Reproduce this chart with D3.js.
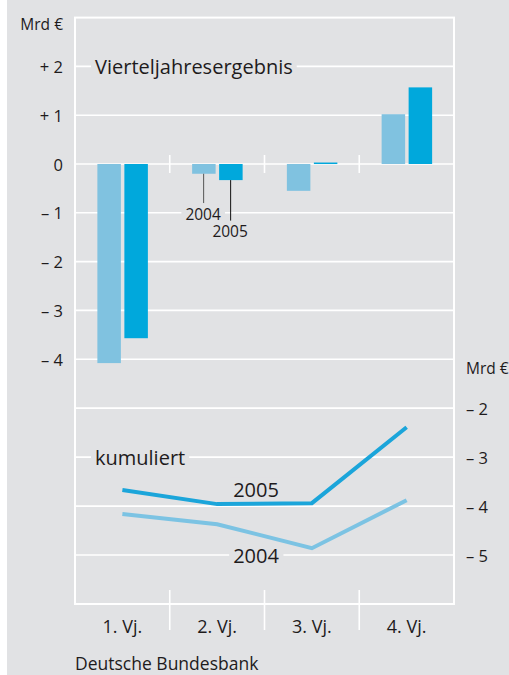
<!DOCTYPE html>
<html>
<head>
<meta charset="utf-8">
<script src="https://cdn.jsdelivr.net/npm/d3@7"></script>
<style>
  body { margin: 0; background: #fff; }
  svg text { font-family: "Open Sans", "Noto Sans", sans-serif; fill: #1e1b1c; }
</style>
</head>
<body>
<div id="chart"></div>
<script>
/* DATA */
const quarters = ["1. Vj.", "2. Vj.", "3. Vj.", "4. Vj."];
const q2004 = [-4.08, -0.2, -0.55, 1.02];   // Vierteljahresergebnis
const q2005 = [-3.57, -0.33, 0.03, 1.57];
const cum2004 = [-4.16, -4.37, -4.86, -3.88]; // kumuliert
const cum2005 = [-3.67, -3.96, -3.94, -2.39];
const topTicks = [2, 1, 0, -1, -2, -3, -4];
const topTickLabels = ["+ 2", "+ 1", "0", "– 1", "– 2", "– 3", "– 4"];
const botTicks = [-2, -3, -4, -5];
const botTickLabels = ["– 2", "– 3", "– 4", "– 5"];

/* CONSTANTS */
const width = 509, height = 675;
const bg = "#e1e2e4", light = "#80c2e0", dark = "#00a8dc";
const lineLight = "#7cc3e3", lineDark = "#1ba5da";
const frame = { left: 75, right: 454, top: 17.6, bottom: 604 };

const svg = d3.select("#chart").append("svg")
  .attr("width", width).attr("height", height);

svg.append("rect").attr("x", 7).attr("y", 0)
  .attr("width", width - 7).attr("height", height).attr("fill", bg);

/* SCALES */
const x = d3.scaleBand().domain(quarters).range([frame.left, frame.right]);
const cx = d => x(d) + x.bandwidth() / 2;
const yTop = d3.scaleLinear().domain([3, -4]).range([frame.top, 359.2]);
const yBot = d3.scaleLinear().domain([-1, -6]).range([359.2, frame.bottom]);

const grid = svg.append("g").attr("stroke", "#fff").attr("stroke-width", 1.6);

// gridlines
grid.selectAll("line.top").data(topTicks).join("line")
  .attr("x1", frame.left).attr("x2", frame.right)
  .attr("y1", d => yTop(d)).attr("y2", d => yTop(d));
grid.selectAll("line.bot").data(botTicks).join("line")
  .attr("x1", frame.left).attr("x2", frame.right)
  .attr("y1", d => yBot(d)).attr("y2", d => yBot(d));

// category separators on zero line and at bottom
const seps = quarters.slice(1).map(q => x(q));
grid.selectAll("line.sep0").data(seps).join("line")
  .attr("x1", d => d).attr("x2", d => d)
  .attr("y1", yTop(0) - 9).attr("y2", yTop(0) + 9);
grid.selectAll("line.sepb").data(seps).join("line")
  .attr("x1", d => d).attr("x2", d => d)
  .attr("y1", frame.bottom - 14).attr("y2", frame.bottom + 26);

// frame
svg.append("rect")
  .attr("x", frame.left).attr("y", frame.top)
  .attr("width", frame.right - frame.left).attr("height", frame.bottom - frame.top)
  .attr("fill", "none").attr("stroke", "#fff").attr("stroke-width", 2);

// labels with background knock-out
function label(txt, xp, yp, size, anchor) {
  const t = svg.append("text").attr("x", xp).attr("y", yp)
    .attr("font-size", size).attr("dominant-baseline", "central")
    .attr("text-anchor", anchor || "start").text(txt);
  const b = t.node().getBBox();
  svg.insert("rect", () => t.node())
    .attr("x", b.x - 4).attr("y", b.y + 2)
    .attr("width", b.width + 8).attr("height", b.height - 4)
    .attr("fill", bg);
  return t;
}

/* BARS */
const bars = svg.append("g");
bars.selectAll("rect.b04").data(quarters).join("rect")
  .attr("x", d => cx(d) - 25).attr("width", 23.5)
  .attr("y", (d, i) => yTop(Math.max(0, q2004[i])))
  .attr("height", (d, i) => Math.abs(yTop(q2004[i]) - yTop(0)))
  .attr("fill", light);
bars.selectAll("rect.b05").data(quarters).join("rect")
  .attr("x", d => cx(d) + 2).attr("width", 23.5)
  .attr("y", (d, i) => yTop(Math.max(0, q2005[i])))
  .attr("height", (d, i) => Math.max(1.5, Math.abs(yTop(q2005[i]) - yTop(0))))
  .attr("fill", dark);

// leader labels for Q2
label("2004", cx(quarters[1]) - 14, yTop(-1) + 1, 15.5, "middle");
label("2005", cx(quarters[1]) + 13, yTop(-1.37), 15.5, "middle");
svg.append("line")
  .attr("x1", cx(quarters[1]) - 13.5).attr("x2", cx(quarters[1]) - 13.5)
  .attr("y1", yTop(q2004[1])).attr("y2", yTop(-0.8))
  .attr("stroke", "#555").attr("stroke-width", 1);
svg.append("line")
  .attr("x1", cx(quarters[1]) + 13.5).attr("x2", cx(quarters[1]) + 13.5)
  .attr("y1", yTop(q2005[1])).attr("y2", yTop(-1.16))
  .attr("stroke", "#111").attr("stroke-width", 1);

label("Vierteljahresergebnis", 95, yTop(2), 20);

/* LINES */
const line = d3.line().x((d, i) => cx(quarters[i])).y(d => yBot(d));
svg.append("path").datum(cum2004).attr("d", line)
  .attr("fill", "none").attr("stroke", lineLight).attr("stroke-width", 4);
svg.append("path").datum(cum2005).attr("d", line)
  .attr("fill", "none").attr("stroke", lineDark).attr("stroke-width", 4);

label("kumuliert", 95, yBot(-3), 20);
label("2005", 256, yBot(-3.66), 20, "middle");
label("2004", 256, yBot(-5), 20, "middle");

/* AXES TEXT */
const axT = svg.append("g").attr("font-size", 16.5);
axT.append("text").attr("x", 63).attr("y", 24).attr("text-anchor", "end")
  .attr("dominant-baseline", "central").attr("font-size", 15.5).text("Mrd €");
axT.selectAll("text.tl").data(topTicks).join("text")
  .attr("x", 63).attr("y", d => yTop(d)).attr("text-anchor", "end")
  .attr("dominant-baseline", "central")
  .text((d, i) => topTickLabels[i]);
axT.append("text").attr("x", 466).attr("y", 368)
  .attr("dominant-baseline", "central").attr("font-size", 15.5).text("Mrd €");
axT.selectAll("text.bl").data(botTicks).join("text")
  .attr("x", 466).attr("y", d => yBot(d))
  .attr("dominant-baseline", "central")
  .text((d, i) => botTickLabels[i]);

svg.append("g").selectAll("text").data(quarters).join("text")
  .attr("x", d => cx(d)).attr("y", 626).attr("text-anchor", "middle")
  .attr("dominant-baseline", "central").attr("font-size", 18)
  .text(d => d);

svg.append("text").attr("x", 75).attr("y", 663)
  .attr("dominant-baseline", "central").attr("font-size", 17.5)
  .text("Deutsche Bundesbank");
</script>
</body>
</html>
